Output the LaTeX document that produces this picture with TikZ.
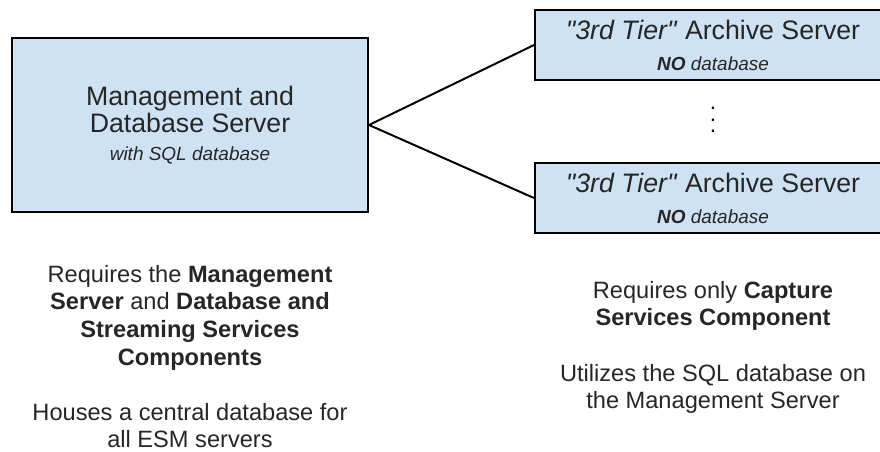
\documentclass[tikz,border=0pt]{standalone}
\usepackage{fontspec}
\setmainfont{Liberation Sans}
\definecolor{boxblue}{HTML}{CFE2F3}
\tikzset{
  box/.style={draw=black, line width=1.4pt, fill=boxblue, align=center, text=black!85, minimum width=8.9cm, inner sep=0pt},
  kmain/.style={box, minimum height=4.35cm, font=\fontsize{19}{19.5}\selectfont},
  ktier/.style={box, minimum height=1.75cm, font=\fontsize{19}{19.5}\selectfont},
  note/.style={align=center, text=black!85, inner sep=0pt, anchor=north, font=\fontsize{16.8}{19.6}\selectfont},
  link/.style={line width=1.4pt},
}
\newcommand{\subline}{\fontsize{13.5}{16}\selectfont}
\newcommand{\qq}{\textquotedbl}

\begin{document}
\begin{tikzpicture}
    \useasboundingbox (0,0) rectangle (22,11.275);
    \clip (0,0) rectangle (22,11.275);
    \node[kmain] (main) at (4.75,8.15) {Management and\\Database Server\\{\subline\itshape with SQL database}};
    \node[ktier] (tiertop) at (17.825,10.15) {\textit{\qq3rd Tier\qq} Archive Server\\[2.5pt]{\subline\textbf{\textit{NO}} \textit{database}}};
    \node[ktier] (tierbot) at (17.825,6.325) {\textit{\qq3rd Tier\qq} Archive Server\\[2.5pt]{\subline\textbf{\textit{NO}} \textit{database}}};
    % vertical ellipsis between the archive servers
    \node[inner sep=0pt, text=black, font=\fontsize{16}{8.5}\selectfont] (dots) at (17.825,8.28) {\vbox{\baselineskip=8.5pt\lineskiplimit=-20pt\hbox{.}\hbox{.}\hbox{.}}};
    \draw[link] (main.east) -- (tiertop.west);
    \draw[link] (main.east) -- (tierbot.west);
    \node[note] (mainnote) at (4.75,4.65) {Requires the \textbf{Management}\\\textbf{Server} and \textbf{Database and}\\\textbf{Streaming Services}\\\textbf{Components}\\[19.6pt]Houses a central database for\\all ESM servers};
    \node[note] (tiernote) at (17.825,4.25) {Requires only \textbf{Capture}\\\textbf{Services Component}\\[19.6pt]Utilizes the SQL database on\\the Management Server};
  \end{tikzpicture}
\end{document}
